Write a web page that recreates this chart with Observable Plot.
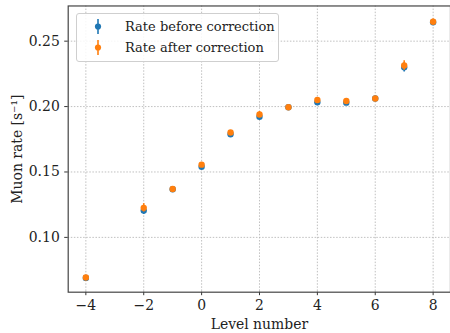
<!DOCTYPE html>
<html>
<head>
<meta charset="utf-8">
<script src="https://cdn.jsdelivr.net/npm/d3@7"></script>
<script src="https://cdn.jsdelivr.net/npm/@observablehq/plot@0.6"></script>
<style>
  html, body { margin: 0; padding: 0; background: #fff; overflow: hidden; }
  #wrap { position: relative; width: 450px; height: 333px; overflow: hidden; }
  #legend {
    position: absolute; left: 76px; top: 13px; width: 201px; height: 47px;
    border: 1px solid #cfcfcf; border-radius: 3px; background: rgba(255,255,255,0.85);
    font-family: "DejaVu Serif", serif; font-size: 13px; color: #222;
  }
  .row { position: absolute; left: 0; height: 21px; line-height: 21px; }
  .row svg { position: absolute; left: 14px; top: 0; }
  .row span { position: absolute; left: 48px; top: 0; white-space: nowrap; }
</style>
</head>
<body>
<div id="wrap"><div id="chart"></div>
<div id="legend">
  <div class="row" style="top:2px"><svg width="14" height="21"><line x1="7" x2="7" y1="3" y2="18" stroke="#1f77b4" stroke-width="1.6"/><circle cx="7" cy="10.5" r="3.1" fill="#1f77b4"/></svg><span>Rate before correction</span></div>
  <div class="row" style="top:23px"><svg width="14" height="21"><line x1="7" x2="7" y1="3" y2="18" stroke="#ff7f0e" stroke-width="1.6"/><circle cx="7" cy="10.5" r="3.1" fill="#ff7f0e"/></svg><span>Rate after correction</span></div>
</div>
</div>
<script>
const levels = [-4, -2, -1, 0, 1, 2, 3, 4, 5, 6, 7, 8];
const rateBefore = [0.0690, 0.1205, 0.1368, 0.1540, 0.1788, 0.1922, 0.1995, 0.2033, 0.2030, 0.2062, 0.2300, 0.2645];
const errBefore  = [0.0012, 0.0030, 0.0012, 0.0015, 0.0015, 0.0022, 0.0012, 0.0015, 0.0015, 0.0015, 0.0035, 0.0020];
const rateAfter  = [0.0693, 0.1226, 0.1370, 0.1556, 0.1802, 0.1939, 0.1995, 0.2050, 0.2043, 0.2062, 0.2314, 0.2648];
const errAfter   = [0.0012, 0.0032, 0.0012, 0.0015, 0.0015, 0.0023, 0.0012, 0.0015, 0.0015, 0.0015, 0.0037, 0.0021];
const xTicks = [-4, -2, 0, 2, 4, 6, 8];
const yTicks = [0.10, 0.15, 0.20, 0.25];

const before = levels.map((x, i) => ({x, y: rateBefore[i], e: errBefore[i]}));
const after = levels.map((x, i) => ({x, y: rateAfter[i], e: errAfter[i]}));

const font = "'DejaVu Serif', serif";
const chart = Plot.plot({
  width: 452, height: 333,
  marginLeft: 68, marginRight: 0, marginTop: 5.5, marginBottom: 40,
  style: {fontFamily: font, fontSize: "14px", color: "#222", background: "#fff"},
  x: {domain: [-4.61, 8.6]},
  y: {domain: [0.0581, 0.2769]},
  marks: [
    Plot.gridX(xTicks, {stroke: "#b0b0b0", strokeOpacity: 1, strokeDasharray: "1.5,1.6", strokeWidth: 0.8}),
    Plot.gridY(yTicks, {stroke: "#b0b0b0", strokeOpacity: 1, strokeDasharray: "1.5,1.6", strokeWidth: 0.8}),
    Plot.ruleX(before, {x: "x", y1: d => d.y - d.e, y2: d => d.y + d.e, stroke: "#1f77b4", strokeWidth: 1.6}),
    Plot.dot(before, {x: "x", y: "y", r: 3.2, fill: "#1f77b4", stroke: "none"}),
    Plot.ruleX(after, {x: "x", y1: d => d.y - d.e, y2: d => d.y + d.e, stroke: "#ff7f0e", strokeWidth: 1.6}),
    Plot.dot(after, {x: "x", y: "y", r: 3.2, fill: "#ff7f0e", stroke: "none"}),
    Plot.axisX(xTicks, {tickSize: 3.5, tickPadding: 4, stroke: "#333", fontSize: 14, fontFamily: font,
      tickFormat: d => (d < 0 ? "\u2212" + Math.abs(d) : String(d)),
      label: "Level number", labelAnchor: "center", labelArrow: "none", labelOffset: 37}),
    Plot.axisY(yTicks, {tickSize: 3.5, tickPadding: 5, stroke: "#333", fontSize: 14, fontFamily: font,
      tickFormat: d => d.toFixed(2),
      label: "Muon rate [s\u207B\u00B9]", labelAnchor: "center", labelArrow: "none", labelOffset: 56}),
    Plot.frame({stroke: "#444", strokeWidth: 1.2})
  ]
});
document.getElementById("chart").appendChild(chart);
</script>
</body>
</html>
